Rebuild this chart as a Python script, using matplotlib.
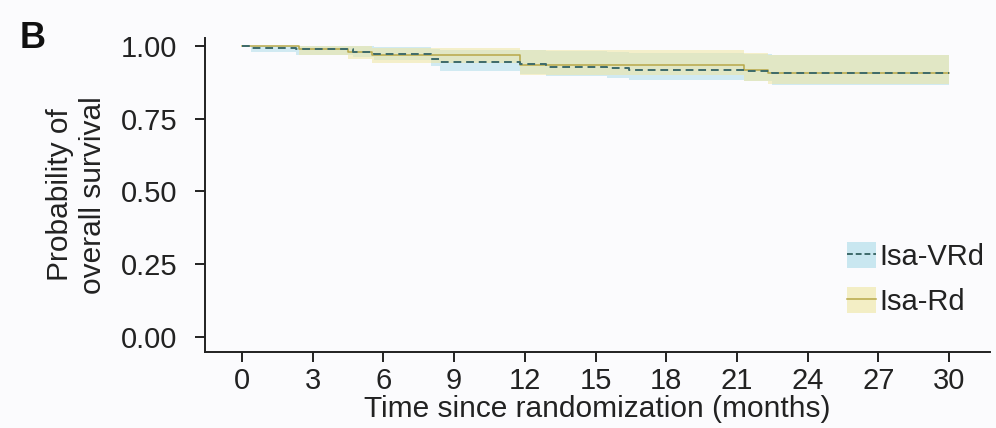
import matplotlib
matplotlib.use("Agg")
import matplotlib.pyplot as plt
from matplotlib.patches import Patch
from matplotlib.lines import Line2D
from matplotlib.legend_handler import HandlerTuple

plt.rcParams['font.family'] = ['Liberation Sans', 'DejaVu Sans']

# Kaplan-Meier step estimates (months, survival probability) with 95% CI
vrd_t = [0, 0.4, 2.3, 4.7, 5.6, 8.0, 8.4, 11.8, 12.9, 15.5, 16.4, 21.3, 22.5, 30.0]
vrd_s = [1.0, 0.993, 0.988, 0.980, 0.972, 0.955, 0.944, 0.937, 0.929, 0.925, 0.918, 0.915, 0.906, 0.906]
vrd_hi = [1.0, 1.0, 1.0, 0.998, 0.995, 0.99, 0.985, 0.985, 0.982, 0.978, 0.975, 0.972, 0.968, 0.968]
vrd_lo = [1.0, 0.98, 0.97, 0.96, 0.95, 0.93, 0.915, 0.905, 0.895, 0.89, 0.882, 0.878, 0.866, 0.866]

rd_t = [0, 2.4, 4.5, 5.5, 11.8, 21.3, 22.3, 30.0]
rd_s = [1.0, 0.988, 0.978, 0.968, 0.935, 0.918, 0.908, 0.908]
rd_hi = [1.0, 1.0, 0.998, 0.993, 0.985, 0.975, 0.968, 0.968]
rd_lo = [1.0, 0.97, 0.955, 0.94, 0.90, 0.88, 0.868, 0.868]

arm_labels = ["Isa-VRd", "Isa-Rd"]
x_ticks = [0, 3, 6, 9, 12, 15, 18, 21, 24, 27, 30]
y_ticks = [0.0, 0.25, 0.5, 0.75, 1.0]

BLUE_BAND = "#a9dbe8"
YELLOW_BAND = "#efe6a0"
VRD_LINE = "#3d6a6a"
RD_LINE = "#b8a848"
INK = "#222222"

fig = plt.figure(figsize=(9.96, 4.28), dpi=100)
fig.patch.set_facecolor("#fbfbfd")
ax = fig.add_axes([205 / 996, 76 / 428, 785 / 996, 314 / 428])
ax.set_facecolor("#fbfbfd")

ax.fill_between(vrd_t, vrd_lo, vrd_hi, step="post", color=BLUE_BAND, alpha=0.5, lw=0)
ax.fill_between(rd_t, rd_lo, rd_hi, step="post", color=YELLOW_BAND, alpha=0.55, lw=0)
ax.step(rd_t, rd_s, where="post", color=RD_LINE, lw=1.1)
ax.step(vrd_t, vrd_s, where="post", color=VRD_LINE, lw=1.4, ls=(0, (4, 2.5)))

ax.set_xlim(-1.57, 31.73)
ax.set_ylim(-0.052, 1.027)
ax.set_xticks(x_ticks)
ax.set_xticklabels([str(v) for v in x_ticks])
ax.set_yticks(y_ticks)
ax.set_yticklabels([f"{v:.2f}" for v in y_ticks])

for side in ("top", "right"):
    ax.spines[side].set_visible(False)
for side in ("left", "bottom"):
    ax.spines[side].set_linewidth(1.4)
    ax.spines[side].set_color(INK)

ax.tick_params(axis="both", length=7, width=1.4, color=INK,
               labelsize=21, labelcolor=INK)
ax.tick_params(axis="y", pad=13)
ax.tick_params(axis="x", pad=4)

ax.set_xlabel("Time since randomization (months)", fontsize=21.5, color=INK, labelpad=0)
ax.set_ylabel("Probability of\noverall survival", fontsize=21.5, color=INK,
              labelpad=10, linespacing=1.2)

handles = [
    (Patch(facecolor=BLUE_BAND, alpha=0.6, lw=0), Line2D([], [], color=VRD_LINE, lw=1.4, ls=(0, (3, 1.5)))),
    (Patch(facecolor=YELLOW_BAND, alpha=0.6, lw=0), Line2D([], [], color=RD_LINE, lw=1.1)),
]
fig.legend(handles, arm_labels, handler_map={tuple: HandlerTuple(ndivide=1, pad=0)},
           loc="upper left", bbox_to_anchor=(847 / 996, 1 - 242 / 428),
           frameon=False, fontsize=21, handlelength=1.0, handleheight=1.0,
           handletextpad=0.1, labelspacing=0.55, borderpad=0, borderaxespad=0,
           labelcolor=INK)

fig.text(20 / 996, 1 - 48 / 428, "B", fontsize=26, fontweight="bold", color="#111111")

fig.savefig("out.png", dpi=100, facecolor=fig.get_facecolor())
